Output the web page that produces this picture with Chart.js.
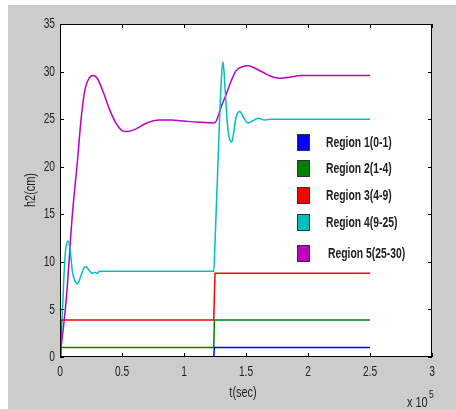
<!DOCTYPE html>
<html>
<head>
<meta charset="utf-8">
<script src="https://cdn.jsdelivr.net/npm/chart.js@4/dist/chart.umd.min.js"></script>
<style>
  html, body { margin: 0; padding: 0; background: #ffffff; }
  #wrap { width: 456px; height: 409px; }
</style>
</head>
<body>
<div id="wrap"><canvas id="chart" width="456" height="409"></canvas></div>
<script>
// ======================
// DADOS (x em unidades de 10^5 s)
// ======================
const xTicks = [0, 0.5, 1, 1.5, 2, 2.5, 3];
const yTicks = [0, 5, 10, 15, 20, 25, 30, 35];

const regionNames = ["Region 1(0-1)", "Region 2(1-4)", "Region 3(4-9)", "Region 4(9-25)", "Region 5(25-30)"];
const regionColors = ["#0000ff", "#008000", "#ff0000", "#00bfbf", "#bf00bf"];

const r1X = [0, 1.24, 1.245, 2.5];
const r1Y = [0, 0, 1, 1];

const r2X = [0, 1.24, 1.245, 2.5];
const r2Y = [1, 1, 3.9, 3.9];

const r3X = [0, 0.008, 1.24, 1.25, 2.5];
const r3Y = [0, 3.9, 3.9, 8.8, 8.8];

const r4X = [0, 0.01, 0.02, 0.03, 0.045, 0.065, 0.08, 0.1, 0.12, 0.14, 0.16, 0.19, 0.21, 0.23, 0.26, 0.28, 0.3, 0.32,
             1.24, 1.25, 1.27, 1.29, 1.305, 1.315, 1.33, 1.35, 1.37, 1.385, 1.4, 1.42, 1.45, 1.48, 1.515, 1.55, 1.6, 1.65, 1.7, 2.5];
const r4Y = [0, 2, 5, 8, 11.2, 12.2, 11.4, 9, 8, 7.7, 8.2, 9.3, 9.5, 9.2, 8.8, 8.9, 8.8, 9.0,
             9.0, 12, 19, 26, 30, 31, 28.5, 24.5, 22.8, 22.6, 23.5, 25.2, 25.8, 25.2, 24.6, 24.8, 25.1, 24.9, 25.0, 25.0];

const r5X = [0, 0.05, 0.1, 0.14, 0.17, 0.2, 0.24, 0.27, 0.3, 0.35, 0.4, 0.45, 0.5, 0.54, 0.6, 0.7, 0.8, 0.9, 1.0, 1.1, 1.24,
             1.26, 1.28, 1.3, 1.34, 1.38, 1.42, 1.47, 1.52, 1.58, 1.64, 1.7, 1.77, 1.85, 1.94, 2.5];
const r5Y = [0, 6, 15, 20.5, 25, 28, 29.4, 29.6, 29.3, 27.8, 26, 24.6, 23.8, 23.7, 23.9, 24.6, 24.9, 24.9, 24.8, 24.7, 24.6,
             24.8, 25.5, 26.3, 27.6, 29.0, 30.1, 30.5, 30.6, 30.3, 29.9, 29.5, 29.3, 29.4, 29.6, 29.6];

const seriesX = [r1X, r2X, r3X, r4X, r5X];
const seriesY = [r1Y, r2Y, r3Y, r4Y, r5Y];

const FONT = '"Liberation Sans", Arial, sans-serif';
const SQ = 0.68; // aperta o texto na horizontal (fonte do matlab e estreita)

const toPoints = (xs, ys) => xs.map((x, i) => ({ x, y: ys[i] }));

function narrowText(ctx, txt, x, y, align, sx) {
  ctx.save();
  ctx.translate(x, y);
  ctx.scale(sx || SQ, 1);
  ctx.textAlign = align;
  ctx.fillText(txt, 0, 0);
  ctx.restore();
}

// fundo, caixa, ticks internos, titulos e legenda
const matlabPlugin = {
  id: "matlabPlugin",
  beforeDraw(chart) {
    const { ctx, chartArea: a } = chart;
    ctx.save();
    ctx.fillStyle = "#ffffff";
    ctx.fillRect(0, 0, chart.width, chart.height);
    ctx.fillStyle = "#cccccc";
    ctx.fillRect(8, 5, chart.width - 8, chart.height - 5);
    ctx.fillStyle = "#ffffff";
    ctx.fillRect(a.left, a.top, a.right - a.left, a.bottom - a.top);
    ctx.restore();
  },
  afterDraw(chart) {
    const { ctx, chartArea: a, scales } = chart;
    ctx.save();
    ctx.strokeStyle = "#000000";
    ctx.lineWidth = 1;
    ctx.beginPath();
    ctx.moveTo(a.left + 0.5, a.top + 0.5);
    ctx.lineTo(a.right - 0.5, a.top + 0.5);
    ctx.moveTo(a.left + 0.5, a.top);
    ctx.lineTo(a.left + 0.5, a.bottom);
    ctx.moveTo(a.left, a.bottom - 0.5);
    ctx.lineTo(a.right, a.bottom - 0.5);
    ctx.moveTo(a.right - 0.5, a.top);
    ctx.lineTo(a.right - 0.5, a.bottom);
    ctx.stroke();

    // ticks pra dentro
    const tl = 4;
    ctx.beginPath();
    xTicks.forEach(v => {
      const x = Math.round(scales.x.getPixelForValue(v)) + 0.5;
      ctx.moveTo(x, a.bottom); ctx.lineTo(x, a.bottom - tl);
      ctx.moveTo(x, a.top); ctx.lineTo(x, a.top + tl);
    });
    yTicks.forEach(v => {
      const y = Math.round(scales.y.getPixelForValue(v)) + 0.5;
      ctx.moveTo(a.left, y); ctx.lineTo(a.left + tl, y);
      ctx.moveTo(a.right, y); ctx.lineTo(a.right - tl, y);
    });
    ctx.stroke();

    // rotulos dos ticks
    ctx.fillStyle = "#222222";
    ctx.font = "15px " + FONT;
    ctx.textBaseline = "middle";
    xTicks.forEach(v => {
      narrowText(ctx, String(v), scales.x.getPixelForValue(v), a.bottom + 15, "center");
    });
    yTicks.forEach(v => {
      narrowText(ctx, String(v), a.left - 5, scales.y.getPixelForValue(v), "right");
    });

    // titulos
    ctx.font = "14px " + FONT;
    narrowText(ctx, "t(sec)", 243, 393, "center", 0.78);
    ctx.save();
    ctx.translate(31, 190);
    ctx.rotate(-Math.PI / 2);
    narrowText(ctx, "h2(cm)", 0, 0, "center", 0.78);
    ctx.restore();

    narrowText(ctx, "x 10", 407, 403, "left", 0.78);
    ctx.font = "10px " + FONT;
    narrowText(ctx, "5", 429, 395, "left", 0.85);

    // legenda
    const rowsY = [142, 168, 195, 222, 253];
    ctx.font = "bold 14px " + FONT;
    regionNames.forEach((name, i) => {
      const cy = rowsY[i];
      ctx.fillStyle = regionColors[i];
      ctx.fillRect(297, cy - 8, 13, 17);
      ctx.strokeStyle = "#333333";
      ctx.strokeRect(297.5, cy - 7.5, 12, 16);
      ctx.fillStyle = "#222222";
      narrowText(ctx, name, i === 4 ? 328 : 326, cy + 1, "left", 0.74);
    });
    ctx.restore();
  }
};

const datasets = seriesX.map((xs, i) => ({
  label: regionNames[i],
  data: toPoints(xs, seriesY[i]),
  borderColor: regionColors[i],
  backgroundColor: regionColors[i],
  borderWidth: 1.5,
  pointRadius: 0,
  showLine: true,
  cubicInterpolationMode: i >= 3 ? "monotone" : "default",
  tension: 0,
  fill: false
}));

new Chart(document.getElementById("chart"), {
  type: "scatter",
  data: { datasets },
  options: {
    responsive: false,
    animation: false,
    layout: { padding: { top: 24, right: 24, left: 0, bottom: 0 } },
    plugins: { legend: { display: false }, tooltip: { enabled: false } },
    scales: {
      x: {
        type: "linear", min: 0, max: 3,
        afterBuildTicks: (s) => { s.ticks = xTicks.map(v => ({ value: v })); },
        afterFit: (s) => { s.height = 52; },
        grid: { display: false, drawTicks: false },
        border: { display: false },
        ticks: { display: false }
      },
      y: {
        type: "linear", min: 0, max: 35,
        afterBuildTicks: (s) => { s.ticks = yTicks.map(v => ({ value: v })); },
        afterFit: (s) => { s.width = 60; },
        grid: { display: false, drawTicks: false },
        border: { display: false },
        ticks: { display: false }
      }
    }
  },
  plugins: [matlabPlugin]
});
</script>
</body>
</html>
